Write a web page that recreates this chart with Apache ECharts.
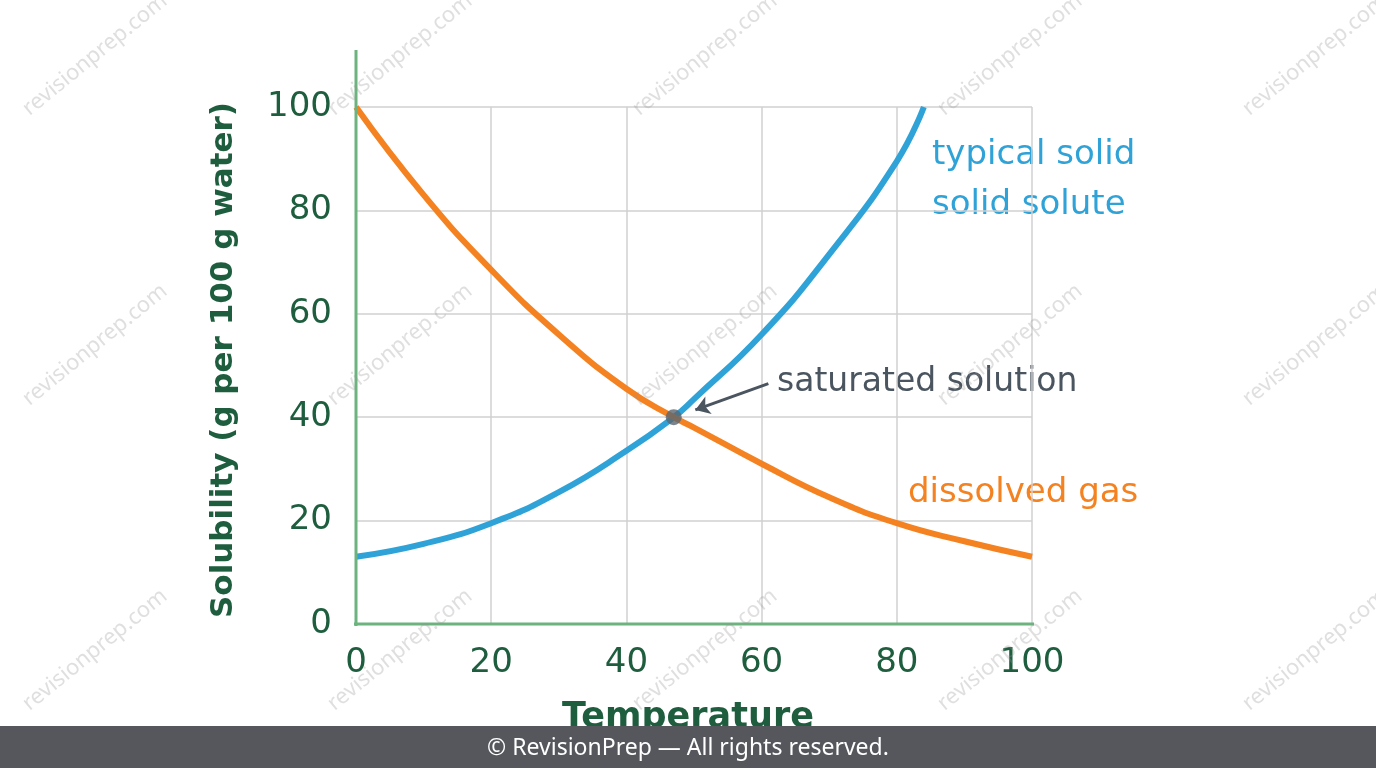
<!DOCTYPE html>
<html><head><meta charset="utf-8">
<script src="https://cdn.jsdelivr.net/npm/echarts@6/dist/echarts.min.js"></script>
<style>html,body{margin:0;padding:0;background:#fff}#c{width:1376px;height:768px}</style>
</head><body><div id="c"></div>
<script>
const solidX = [0,10,20,30,40,47,50,60,70,80,84];
const solidY = [13,15.5,19.5,25.5,33.5,40,43.5,56,71.5,89.5,100];
const gasX = [0,10,20,30,40,47,50,60,70,80,90,100];
const gasY = [100,83,68.5,56,45.5,40,38,31,24.5,19.5,16,13];
const satPoint = [47,40];
const arrowFrom = [61,46.5];
const arrowTo = [50.2,41.4];
const xTicks = [0,20,40,60,80,100];
const yTicks = [0,20,40,60,80,100];
const green = '#1e5e3e';
const F = '"DejaVu Sans"';
const wm = [];
[95,400,705,1010,1315].forEach(x=>[55,345,650].forEach(y=>wm.push({type:'text',x:x,y:y,rotation:Math.PI/4.6,z:100,
  style:{text:'revisionprep.com',fill:'rgba(150,150,150,0.3)',font:'22px "Noto Sans"',align:'center',verticalAlign:'middle'}})));
const chart = echarts.init(document.getElementById('c'));
chart.setOption({
  animation:false,
  grid:{left:356,top:107,width:676,height:517},
  xAxis:{type:'value',min:0,max:100,interval:20,
    axisLine:{show:false},axisTick:{show:false},
    axisLabel:{color:green,fontSize:34,fontFamily:'DejaVu Sans',margin:22,formatter:v=>xTicks.includes(v)?String(v):''},
    splitLine:{lineStyle:{color:'#d0d0d0',width:1.5}}},
  yAxis:{type:'value',min:0,max:100,interval:20,
    axisLine:{show:false},axisTick:{show:false},
    axisLabel:{color:green,fontSize:34,fontFamily:'DejaVu Sans',margin:24,formatter:v=>yTicks.includes(v)?String(v):''},
    splitLine:{lineStyle:{color:'#d0d0d0',width:1.5}}},
  graphic:[
    {type:'line',shape:{x1:356,y1:50,x2:356,y2:626},style:{stroke:'#6db37e',lineWidth:3},z:5},
    {type:'line',shape:{x1:354,y1:624,x2:1034,y2:624},style:{stroke:'#6db37e',lineWidth:3},z:5},
    {type:'text',x:224,y:360,rotation:Math.PI/2,style:{text:'Solubility (g per 100 g water)',fill:green,font:'bold 31px '+F,align:'center',verticalAlign:'middle'}},
    {type:'text',x:688,y:718,style:{text:'Temperature',fill:green,font:'bold 35px '+F,align:'center',verticalAlign:'middle'}},
    {type:'text',x:932,y:180,style:{text:'typical solid\nsolid solute',fill:'#2fa3d8',font:'34px '+F,lineHeight:50,verticalAlign:'middle'}},
    {type:'text',x:777,y:382,style:{text:'saturated solution',fill:'#4a5560',font:'33px '+F,verticalAlign:'middle'}},
    {type:'text',x:908,y:493,style:{text:'dissolved gas',fill:'#f58220',font:'34px '+F,verticalAlign:'middle'}},
    {type:'rect',shape:{x:0,y:726,width:1376,height:42},style:{fill:'#55575c'},z:200},
    {type:'text',x:688,y:748,z:201,style:{text:'© RevisionPrep — All rights reserved.',fill:'#fff',font:'23px "Noto Sans"',align:'center',verticalAlign:'middle'}},
    ...wm
  ],
  series:[
    {type:'line',smooth:true,showSymbol:false,data:solidX.map((x,i)=>[x,solidY[i]]),lineStyle:{color:'#2fa3d8',width:6},z:3},
    {type:'line',smooth:true,showSymbol:false,data:gasX.map((x,i)=>[x,gasY[i]]),lineStyle:{color:'#f58220',width:6},z:3},
    {type:'scatter',data:[satPoint],symbolSize:16,itemStyle:{color:'#5a6570'},z:6},
    {type:'lines',coordinateSystem:'cartesian2d',z:6,data:[{coords:[arrowFrom,arrowTo]}],
      symbol:['none','arrow'],symbolSize:14,lineStyle:{color:'#4a5560',width:3,opacity:1}}
  ]
});
</script></body></html>
